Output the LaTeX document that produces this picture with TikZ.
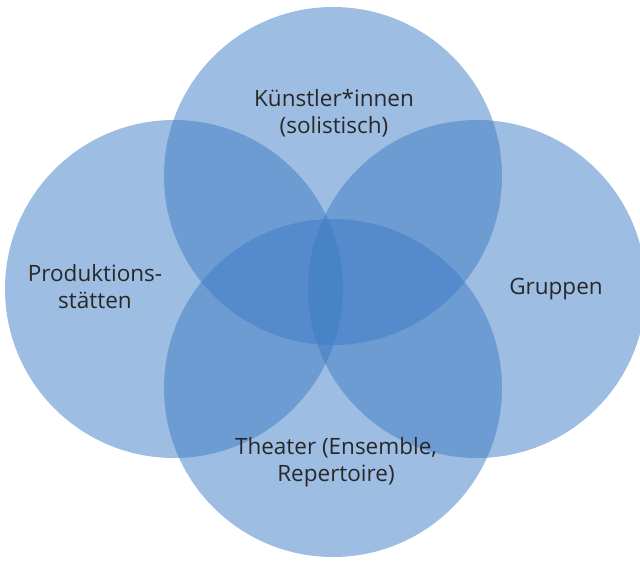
\documentclass[tikz,border=0pt]{standalone}
\usepackage{fontspec}
\setmainfont{Open Sans}
\usetikzlibrary{positioning}
\definecolor{ringblue}{RGB}{61,123,197}
\definecolor{labelgray}{RGB}{40,40,40}

\begin{document}
\begin{tikzpicture}[x=1pt,y=-1pt,
  ring/.style={circle, minimum size=338pt, inner sep=0pt, fill=ringblue, fill opacity=0.5},
  lbl/.style={align=center, text=labelgray, font=\fontsize{22.5}{27}\selectfont, inner sep=0pt}]
 \useasboundingbox (0,0) rectangle (640,560);

 \node[ring] (artists) at (333,176) {};
 \node[ring] (venues) at (174,289) {};
 \node[ring] (groups) at (477,289) {};
 \node[ring] (theatre) at (333,388) {};

 \node[lbl] (artistsl) at (334,113) {Künstler*innen\\(solistisch)};
 \node[lbl] (venuesl) at (95,287) {Produktions-\\stätten};
 \node[lbl] (groupsl) at (556,289) {Gruppen};
 \node[lbl] (theatrel) at (336,462) {Theater (Ensemble,\\Repertoire)};
\end{tikzpicture}
\end{document}
